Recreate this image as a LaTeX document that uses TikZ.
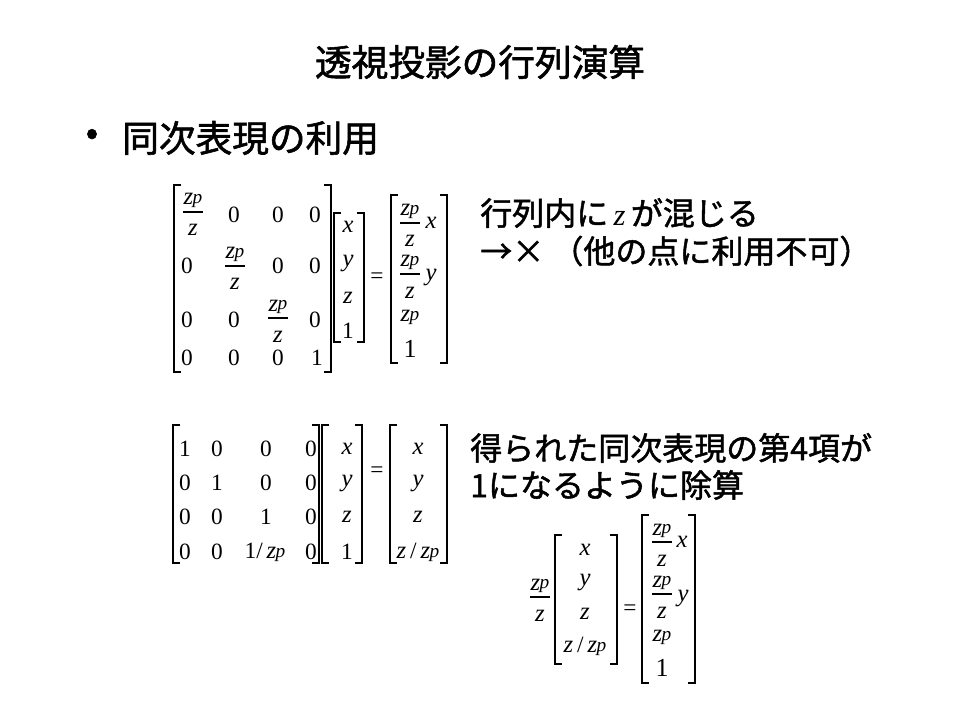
\documentclass[tikz,border=0pt]{standalone}
\usepackage{fontspec}
\setmainfont{Liberation Serif}
\newfontfamily\jp[FakeBold=1.5]{Noto Sans CJK JP}
\newcommand\vv[1]{{\rmfamily\fontsize{18.5}{19}\selectfont\itshape #1}}
\newcommand\zp{\vv{z}\kern-0.4pt\raisebox{0.1ex}{\rmfamily\fontsize{14.5}{15}\selectfont\itshape p}}
\newcommand\LB[3]{\draw[brk] (#1+7,#2) -- (#1,#2) -- (#1,#3) -- (#1+7,#3);}
\newcommand\RB[3]{\draw[brk] (#1-7,#2) -- (#1,#2) -- (#1,#3) -- (#1-7,#3);}
\newcommand\FR[3]{%
  \node[m,anchor=base] (#1n) at (#2,#3-7) {\zp};
  \node[m,anchor=base] (#1d) at (#2,#3+24) {\vv{z}};
  \draw[fl] (#2-10,#3) -- (#2+10,#3);}
\tikzset{
  m/.style={inner sep=0pt, font=\fontsize{17.5}{18}\selectfont},
  mbig/.style={inner sep=0pt, font=\fontsize{19.5}{20}\selectfont},
  brk/.style={line width=0.8pt},
  fl/.style={line width=0.8pt},
  jt/.style={font=\jp\fontsize{27.5}{30}\selectfont, inner sep=0pt},
  jb/.style={font=\jp\fontsize{24}{28}\selectfont, inner sep=0pt, anchor=west},
}
\begin{document}
\begin{tikzpicture}[x=0.75pt,y=-0.75pt]
\useasboundingbox (0,0) rectangle (960,720);
% texts
\node[jt] (title) at (480,62) {透視投影の行列演算};
\node[jt] (bullet) at (92,137) {•};
\node[jt,anchor=west] (head) at (122,138) {同次表現の利用};
\node[jb] (r1) at (480,213) {行列内に\,{\rmfamily\fontsize{23}{24}\selectfont\itshape z}\,が混じる};
\node[jb] (r2) at (480,251) {→×\ （他の点に利用不可）};
\node[jb] (s1) at (470,448) {得られた同次表現の第4項が};
\node[jb] (s2) at (470,485) {1になるように除算};

% ---------- matrix 1 ----------
\LB{174}{185}{372} \RB{331}{185}{372}
\LB{334}{213}{342} \RB{364}{213}{342}
\node[m] (eqA) at (377,278) {=};
\LB{391}{195}{363} \RB{447}{195}{363}
\FR{a11}{193}{212}
\node[m] (a12) at (234,215) {0};
\node[m] (a13) at (278,215) {0};
\node[m] (a14) at (315,215) {0};
\node[m] (a21) at (187,266) {0};
\FR{a22}{235}{266}
\node[m] (a23) at (278,266) {0};
\node[m] (a24) at (315,266) {0};
\node[m] (a31) at (187,320) {0};
\node[m] (a32) at (234,320) {0};
\FR{a33}{278}{318}
\node[m] (a34) at (315,320) {0};
\node[m] (a41) at (187,358) {0};
\node[m] (a42) at (234,358) {0};
\node[m] (a43) at (278,358) {0};
\node[m] (a44) at (317,358) {1};
\node[m] (av1) at (348,227) {\vv{x}};
\node[m] (av2) at (348,264) {\vv{y}};
\node[m] (av3) at (348,298) {\vv{z}};
\node[m] (av4) at (348,331) {1};
\FR{ar1}{410}{223}
\node[m] (ar1x) at (431,223) {\vv{x}};
\FR{ar2}{410}{274}
\node[m] (ar2y) at (431,278) {\vv{y}};
\node[m] (ar3) at (410,317) {\zp};
\node[mbig] (ar4) at (410,349) {1};

% ---------- matrix 2 ----------
\LB{173}{425}{563} \RB{319}{425}{563}
\LB{322}{425}{563} \RB{362}{425}{563}
\node[m] (eqB) at (377,472) {=};
\LB{390}{425}{563} \RB{447}{425}{563}
\node[m] (b11) at (185,449) {1};
\node[m] (b12) at (217,449) {0};
\node[m] (b13) at (266,449) {0};
\node[m] (b14) at (311,449) {0};
\node[m] (b21) at (185,483) {0};
\node[m] (b22) at (217,483) {1};
\node[m] (b23) at (266,483) {0};
\node[m] (b24) at (311,483) {0};
\node[m] (b31) at (185,517) {0};
\node[m] (b32) at (217,517) {0};
\node[m] (b33) at (266,517) {1};
\node[m] (b34) at (311,517) {0};
\node[m] (b41) at (185,552) {0};
\node[m] (b42) at (217,552) {0};
\node[m] (b43) at (265,552) {1/\,\zp};
\node[m] (b44) at (311,552) {0};
\node[m] (bv1) at (347,449) {\vv{x}};
\node[m] (bv2) at (347,483) {\vv{y}};
\node[m] (bv3) at (347,517) {\vv{z}};
\node[m] (bv4) at (347,552) {1};
\node[m] (br1) at (418,449) {\vv{x}};
\node[m] (br2) at (418,483) {\vv{y}};
\node[m] (br3) at (418,517) {\vv{z}};
\node[m] (br4) at (418,552) {\vv{z}\,/\,\zp};

% ---------- matrix 3 ----------
\FR{cf}{540}{597}
\LB{555}{535}{664} \RB{617}{535}{664}
\node[m] (cv1) at (585,550) {\vv{x}};
\node[m] (cv2) at (585,582) {\vv{y}};
\node[m] (cv3) at (585,614) {\vv{z}};
\node[m] (cv4) at (585,646) {\vv{z}\,/\,\zp};
\node[m] (eqC) at (630,610) {=};
\LB{642}{515}{683} \RB{695}{515}{683}
\FR{cr1}{662}{542}
\node[m] (cr1x) at (682,542) {\vv{x}};
\FR{cr2}{662}{594}
\node[m] (cr2y) at (683,598) {\vv{y}};
\node[m] (cr3) at (662,637) {\zp};
\node[mbig] (cr4) at (662,668) {1};
\end{tikzpicture}
\end{document}
